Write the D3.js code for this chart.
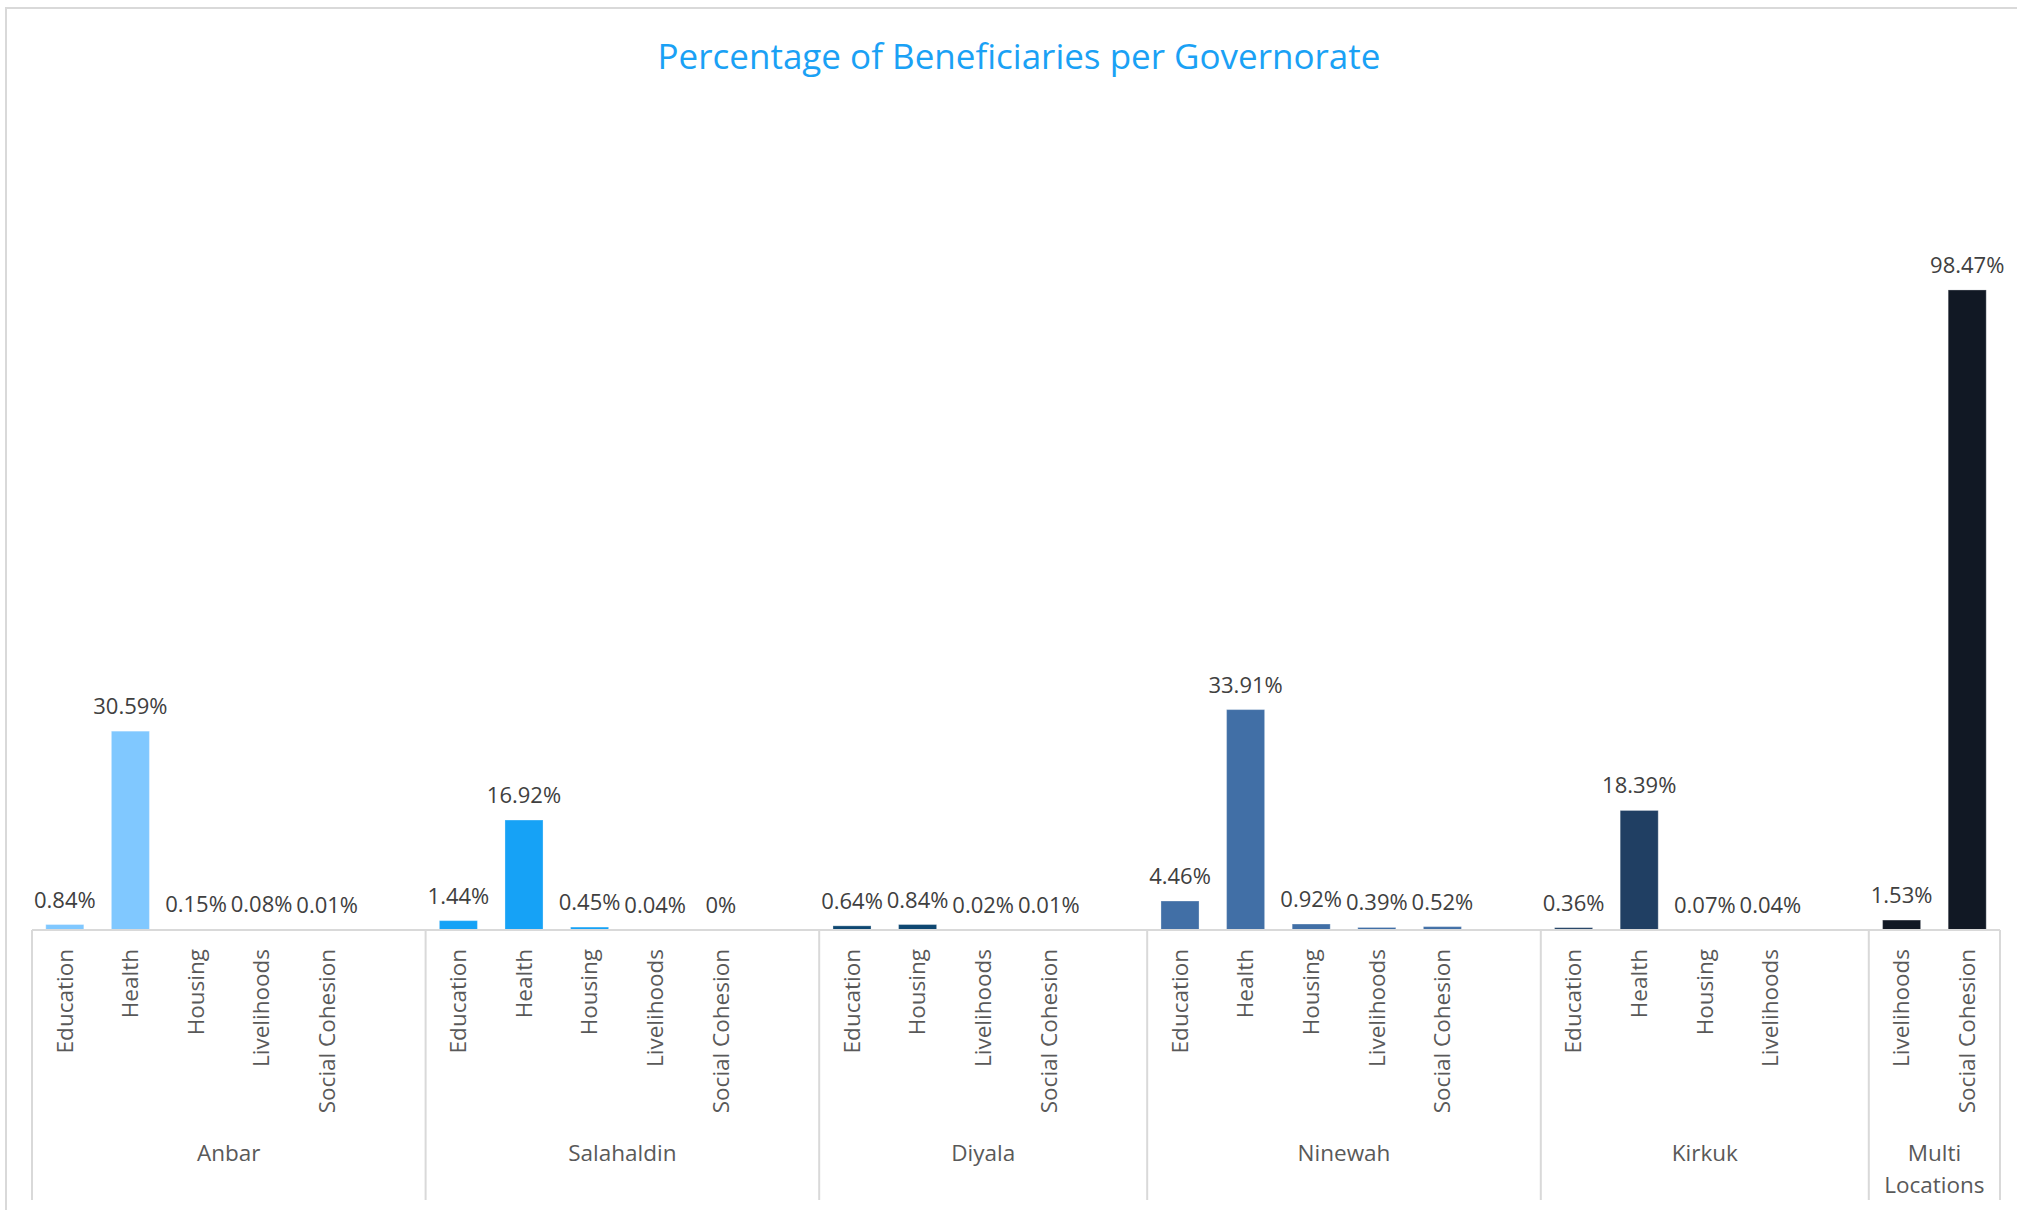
<!DOCTYPE html>
<html lang="en">
<head>
    <meta charset="UTF-8">
    <title>Percentage of Beneficiaries per Governorate</title>
    <script src="https://d3js.org/d3.v7.min.js"></script>
    <style>
        body {
            margin: 0;
            background: #fff;
            font-family: "Open Sans", "Noto Sans", sans-serif;
        }
        .value-label {
            font-size: 22px;
            fill: #404040;
        }
        .cat-label {
            font-size: 22.5px;
            fill: #595959;
        }
        .group-label {
            font-size: 22.5px;
            fill: #595959;
        }
    </style>
</head>
<body>
    <div id="chart"></div>

    <script>
        // Governorates and their sectors, as in the pivot chart
        const governorates = ["Anbar", "Salahaldin", "Diyala", "Ninewah", "Kirkuk", "Multi Locations"];
        const anbarSectors = ["Education", "Health", "Housing", "Livelihoods", "Social Cohesion"];
        const anbarValues = [0.84, 30.59, 0.15, 0.08, 0.01];
        const salahaldinSectors = ["Education", "Health", "Housing", "Livelihoods", "Social Cohesion"];
        const salahaldinValues = [1.44, 16.92, 0.45, 0.04, 0];
        const diyalaSectors = ["Education", "Housing", "Livelihoods", "Social Cohesion"];
        const diyalaValues = [0.64, 0.84, 0.02, 0.01];
        const ninewahSectors = ["Education", "Health", "Housing", "Livelihoods", "Social Cohesion"];
        const ninewahValues = [4.46, 33.91, 0.92, 0.39, 0.52];
        const kirkukSectors = ["Education", "Health", "Housing", "Livelihoods"];
        const kirkukValues = [0.36, 18.39, 0.07, 0.04];
        const multiSectors = ["Livelihoods", "Social Cohesion"];
        const multiValues = [1.53, 98.47];
        const colors = ["#80c8ff", "#16a2f6", "#0e4771", "#416fa6", "#203f63", "#111824"];

        const sectorLists = [anbarSectors, salahaldinSectors, diyalaSectors, ninewahSectors, kirkukSectors, multiSectors];
        const valueLists = [anbarValues, salahaldinValues, diyalaValues, ninewahValues, kirkukValues, multiValues];

        // flatten into rows; each governorate except the last has an empty slot after it
        const rows = [];
        const slots = [];
        governorates.forEach((g, gi) => {
            sectorLists[gi].forEach((s, si) => {
                const key = g + "|" + s;
                rows.push({ gov: g, gi: gi, sector: s, value: valueLists[gi][si], key: key });
                slots.push(key);
            });
            if (gi < governorates.length - 1) slots.push(g + "|");
        });

        const W = 2017, H = 1210;
        const x0 = 32, x1 = 2000, baseY = 930;

        const svg = d3.select("#chart").append("svg")
            .attr("width", W)
            .attr("height", H);

        // outer chart border
        svg.append("rect")
            .attr("x", 6).attr("y", 8)
            .attr("width", W + 20).attr("height", H + 20)
            .attr("fill", "none")
            .attr("stroke", "#d9d9d9")
            .attr("stroke-width", 2);

        // title
        svg.append("text")
            .attr("x", 1019)
            .attr("y", 69)
            .attr("text-anchor", "middle")
            .style("font-size", "35px")
            .style("fill", "#1aa1f5")
            .text("Percentage of Beneficiaries per Governorate");

        const xScale = d3.scaleBand()
            .domain(slots)
            .range([x0, x1])
            .paddingInner(0.42)
            .paddingOuter(0.21);

        const yScale = d3.scaleLinear()
            .domain([0, 100])
            .range([baseY, baseY - 650]);

        const fmt = v => v === 0 ? "0%" : v.toFixed(2) + "%";

        // bars
        svg.selectAll(".bar")
            .data(rows)
            .enter().append("rect")
            .attr("class", "bar")
            .attr("x", d => xScale(d.key))
            .attr("y", d => yScale(d.value))
            .attr("width", xScale.bandwidth())
            .attr("height", d => baseY - yScale(d.value))
            .attr("fill", d => colors[d.gi])
            .attr("stroke", "rgba(255,255,255,0.3)")
            .attr("stroke-width", 1);

        // value labels
        svg.selectAll(".value-label")
            .data(rows)
            .enter().append("text")
            .attr("class", "value-label")
            .attr("x", d => xScale(d.key) + xScale.bandwidth() / 2)
            .attr("y", d => yScale(d.value) - 17)
            .attr("text-anchor", "middle")
            .text(d => fmt(d.value));

        // x axis baseline
        svg.append("line")
            .attr("x1", x0).attr("x2", x1)
            .attr("y1", baseY).attr("y2", baseY)
            .attr("stroke", "#d9d9d9")
            .attr("stroke-width", 2);

        // sector labels, rotated
        svg.selectAll(".cat-label")
            .data(rows)
            .enter().append("text")
            .attr("class", "cat-label")
            .attr("text-anchor", "end")
            .attr("dy", "0.35em")
            .attr("transform", d => `translate(${xScale(d.key) + xScale.bandwidth() / 2},949) rotate(-90)`)
            .text(d => d.sector);

        // group boundaries and group labels
        const step = xScale.step();
        let left = x0;
        const bounds = [x0];
        governorates.forEach((g, gi) => {
            const n = sectorLists[gi].length + (gi < governorates.length - 1 ? 1 : 0);
            const right = left + n * step;
            bounds.push(right);
            const words = g === "Multi Locations" ? ["Multi", "Locations"] : [g];
            const t = svg.append("text")
                .attr("class", "group-label")
                .attr("text-anchor", "middle")
                .attr("x", (left + right) / 2)
                .attr("y", 1161);
            words.forEach((w, wi) => {
                t.append("tspan")
                    .attr("x", (left + right) / 2)
                    .attr("dy", wi === 0 ? 0 : 32)
                    .text(w);
            });
            left = right;
        });

        svg.selectAll(".sep")
            .data(bounds)
            .enter().append("line")
            .attr("class", "sep")
            .attr("x1", d => d).attr("x2", d => d)
            .attr("y1", baseY).attr("y2", 1200)
            .attr("stroke", "#d9d9d9")
            .attr("stroke-width", 2);
    </script>
</body>
</html>
